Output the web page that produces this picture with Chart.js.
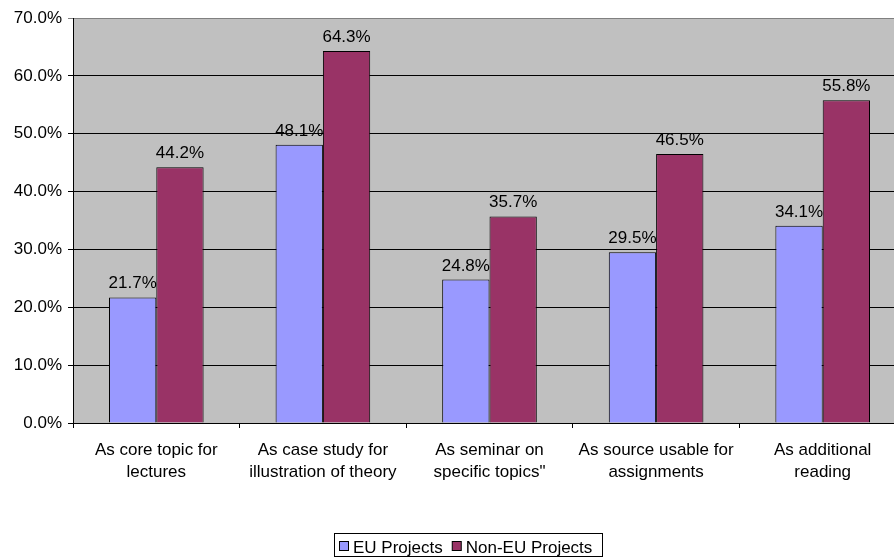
<!DOCTYPE html>
<html>
<head>
<meta charset="utf-8">
<script src="https://cdn.jsdelivr.net/npm/chart.js@4/dist/chart.umd.min.js"></script>
<style>
html,body{margin:0;padding:0;background:#fff;overflow:hidden;}
#wrap{width:906px;height:559px;position:relative;}
</style>
</head>
<body>
<div id="wrap"><canvas id="c"></canvas></div>
<script>
const categories = [
  ["As core topic for", "lectures"],
  ["As case study for", "illustration of theory"],
  ["As seminar on", "specific topics\""],
  ["As source usable for", "assignments"],
  ["As additional", "reading"]
];
const euProjects = [21.7, 48.1, 24.8, 29.5, 34.1];
const nonEuProjects = [44.2, 64.3, 35.7, 46.5, 55.8];
const seriesNames = ["EU Projects", "Non-EU Projects"];
const seriesColors = ['#9999FF', '#993366'];

const FONT = "'Liberation Sans', Arial, sans-serif";
const FS = 17;

const valueLabels = {
  id: 'valueLabels',
  afterDatasetsDraw(chart) {
    const ctx = chart.ctx;
    ctx.save();
    ctx.font = FS + "px " + FONT;
    ctx.fillStyle = '#000';
    ctx.textAlign = 'center';
    ctx.textBaseline = 'alphabetic';
    chart.data.datasets.forEach((ds, i) => {
      chart.getDatasetMeta(i).data.forEach((bar, j) => {
        ctx.fillText(ds.data[j].toFixed(1) + '%', bar.x, bar.y - 9);
      });
    });
    ctx.restore();
  }
};

const customLegend = {
  id: 'customLegend',
  afterDraw(chart) {
    const ctx = chart.ctx;
    ctx.save();
    ctx.font = FS + "px " + FONT;
    const sq = 9, padL = 5, gapSqText = 5, gapItems = 9, padR = 10;
    const widths = chart.data.datasets.map(ds => ctx.measureText(ds.label).width);
    let total = padL + padR;
    widths.forEach((w, i) => { total += sq + gapSqText + w + (i < widths.length - 1 ? gapItems : 0); });
    const center = 447 + 21.5;
    const left = Math.round(center - total / 2);
    const top = 533, h = 23;
    ctx.strokeStyle = '#000';
    ctx.lineWidth = 1;
    ctx.strokeRect(left + 0.5, top + 0.5, Math.round(total), h);
    let x = left + padL;
    const baseline = top + 20;
    chart.data.datasets.forEach((ds, i) => {
      ctx.fillStyle = ds.backgroundColor;
      ctx.fillRect(x + 0.5, top + 8.5, sq, sq);
      ctx.strokeStyle = '#000';
      ctx.strokeRect(x + 0.5, top + 8.5, sq, sq);
      x += sq + gapSqText;
      ctx.fillStyle = '#000';
      ctx.textBaseline = 'alphabetic';
      ctx.textAlign = 'left';
      ctx.fillText(ds.label, x, baseline);
      x += widths[i] + gapItems;
    });
    ctx.restore();
  }
};

const plotBg = {
  id: 'plotBg',
  beforeDraw(chart) {
    const a = chart.chartArea;
    const ctx = chart.ctx;
    ctx.save();
    ctx.fillStyle = '#C0C0C0';
    ctx.fillRect(a.left, a.top, a.right - a.left, a.bottom - a.top);
    ctx.restore();
  }
};

new Chart(document.getElementById('c'), {
  type: 'bar',
  data: {
    labels: categories,
    datasets: [
      { label: seriesNames[0], data: euProjects, backgroundColor: seriesColors[0], borderColor: '#000', borderWidth: 1, borderSkipped: 'bottom' },
      { label: seriesNames[1], data: nonEuProjects, backgroundColor: seriesColors[1], borderColor: '#000', borderWidth: 1, borderSkipped: 'bottom' }
    ]
  },
  options: {
    responsive: true,
    maintainAspectRatio: false,
    animation: false,
    devicePixelRatio: 1,
    layout: { padding: { top: 18, right: 0, bottom: 31, left: 0 } },
    datasets: { bar: { categoryPercentage: 0.568, barPercentage: 1.0 } },
    scales: {
      x: {
        ticks: { color: '#000', font: { family: FONT, size: FS, lineHeight: 1.3 }, padding: 11, maxRotation: 0, autoSkip: false },
        grid: { offset: true, drawOnChartArea: false, drawTicks: true, tickLength: 5, color: '#000' },
        border: { color: '#000', width: 1 },
        afterFit(scale) { scale.height = 105; }
      },
      y: {
        min: 0, max: 70,
        ticks: { stepSize: 10, color: '#000', font: { family: FONT, size: FS }, padding: 6,
          callback: v => v.toFixed(1) + '%' },
        grid: { color: ctx => (ctx.tick && ctx.tick.value === 70) ? '#808080' : '#000', tickLength: 5, drawTicks: true },
        border: { color: '#000', width: 1 },
        afterFit(scale) { scale.width = 73; scale.paddingTop = 0; scale.paddingBottom = 0; }
      }
    },
    plugins: {
      legend: { display: false },
      tooltip: { enabled: false },
      title: { display: false }
    }
  },
  plugins: [plotBg, valueLabels, customLegend]
});
</script>
</body>
</html>
